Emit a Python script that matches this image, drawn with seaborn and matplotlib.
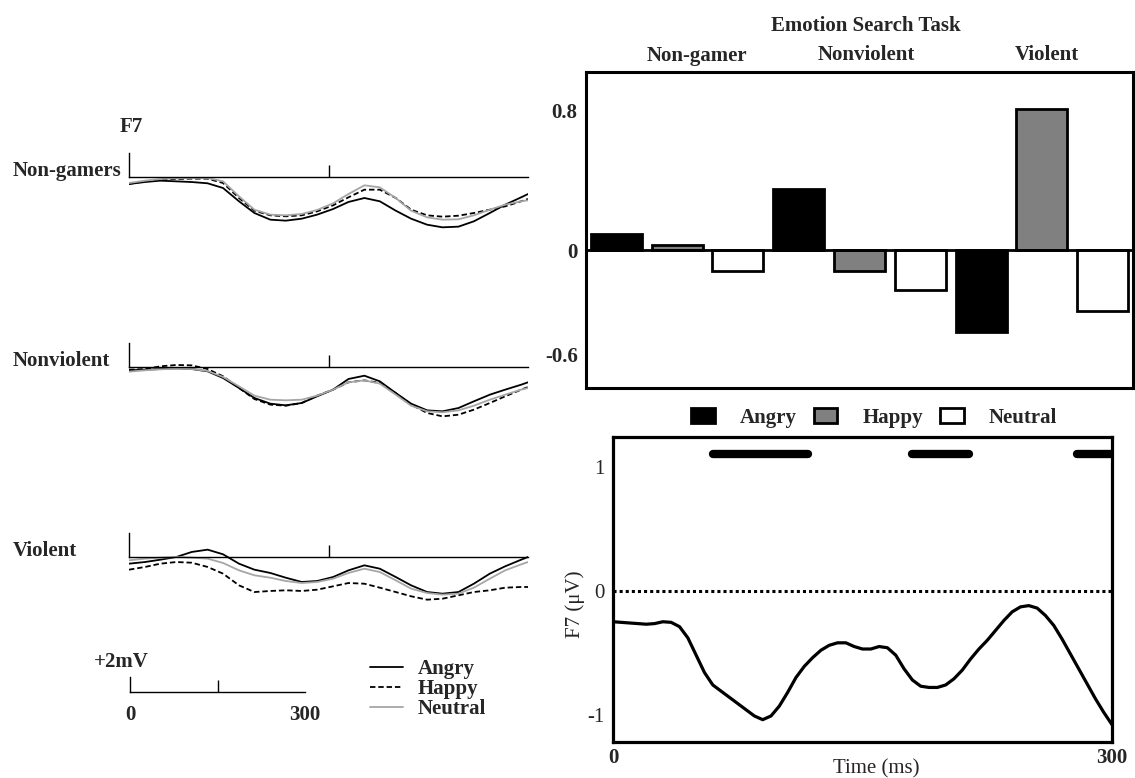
import numpy as np
import pandas as pd
import matplotlib
matplotlib.use("Agg")
import matplotlib.pyplot as plt
import matplotlib.transforms as mtransforms
from matplotlib.patches import Patch
from matplotlib.lines import Line2D
import seaborn as sns

sns.set_theme(style="white")
plt.rcParams['font.family'] = ['Liberation Serif', 'DejaVu Serif']

# ---------------- data ----------------
emotions = ["Angry", "Happy", "Neutral"]

# Left: grand-average ERP waveforms at F7 (time in ms, amplitude in uV)
erp_time = [0, 28, 55, 83, 110, 138, 165, 193, 220, 248, 275, 303, 330, 358,
            385, 413, 440, 468, 495, 523, 550, 578, 605, 633, 660, 688, 700]
ng_angry = [-0.93, -0.67, -0.49, -0.58, -0.67, -0.84, -1.47, -3.24, -4.80, -5.69, -5.82, -5.56, -5.02, -4.27,
            -3.33, -2.80, -3.24, -4.49, -5.56, -6.36, -6.71, -6.62, -5.91, -4.80, -3.69, -2.71, -2.27]
ng_happy = [-0.93, -0.58, -0.36, -0.27, -0.22, -0.22, -0.80, -2.80, -4.49, -5.11, -5.24, -5.11, -4.58, -3.78,
            -2.71, -1.69, -1.69, -2.80, -4.36, -5.11, -5.29, -5.16, -4.80, -4.36, -3.91, -3.24, -2.93]
ng_neutral = [-0.80, -0.49, -0.27, -0.18, -0.13, -0.13, -0.58, -2.58, -4.36, -5.02, -5.11, -4.93, -4.40, -3.51,
              -2.27, -1.11, -1.38, -2.80, -4.49, -5.38, -5.69, -5.64, -5.11, -4.36, -3.69, -3.24, -3.11]
nv_angry = [-0.44, -0.36, -0.27, -0.18, -0.27, -0.58, -1.47, -2.80, -4.13, -4.89, -5.11, -4.80, -3.91, -3.02,
            -1.60, -1.16, -1.91, -3.47, -4.89, -5.78, -5.91, -5.47, -4.58, -3.69, -3.02, -2.36, -2.04]
nv_happy = [-0.36, -0.27, 0.09, 0.27, 0.22, -0.27, -1.24, -2.80, -4.27, -5.02, -5.16, -4.80, -3.82, -3.02,
            -2.04, -1.78, -2.13, -3.47, -5.02, -6.13, -6.58, -6.36, -5.69, -4.80, -3.91, -3.02, -2.67]
nv_neutral = [-0.62, -0.44, -0.31, -0.22, -0.27, -0.53, -1.33, -2.58, -3.82, -4.36, -4.44, -4.36, -3.82, -3.02,
              -2.04, -1.78, -2.22, -3.69, -5.16, -5.91, -6.04, -5.78, -5.16, -4.36, -3.69, -3.02, -2.80]
v_angry = [-0.89, -0.67, -0.36, 0.00, 0.67, 0.98, 0.36, -0.89, -1.69, -2.13, -2.76, -3.33, -3.20, -2.67,
           -1.78, -1.11, -1.56, -2.67, -3.78, -4.67, -4.89, -4.67, -3.56, -2.22, -1.24, -0.36, 0.00]
v_happy = [-1.69, -1.33, -0.89, -0.67, -0.76, -1.33, -2.22, -3.78, -4.67, -4.53, -4.44, -4.53, -4.36, -3.91,
           -3.47, -3.56, -4.09, -4.67, -5.24, -5.69, -5.56, -5.11, -4.67, -4.44, -4.09, -4.00, -4.00]
v_neutral = [-0.44, -0.22, -0.09, 0.00, -0.09, -0.22, -0.80, -1.78, -2.44, -2.76, -3.20, -3.47, -3.33, -2.89,
             -2.13, -1.56, -2.00, -3.11, -4.22, -4.80, -5.02, -4.89, -4.09, -2.89, -1.78, -0.98, -0.67]
panel_names = ["Non-gamers", "Nonviolent", "Violent"]
panel_series = [(ng_angry, ng_happy, ng_neutral),
                (nv_angry, nv_happy, nv_neutral),
                (v_angry, v_happy, v_neutral)]

# Top right: mean amplitude bars
bar_groups = ["Non-gamer", "Nonviolent", "Violent"]
bar_angry = [0.09, 0.35, -0.47]
bar_happy = [0.03, -0.12, 0.81]
bar_neutral = [-0.12, -0.23, -0.35]
bar_ticks = [0.8, 0, -0.6]
bar_ticklabels = ["0.8", "0", "-0.6"]

# Bottom right: difference wave at F7
line_time = [0, 5, 10, 15, 20, 25, 30, 35, 40, 45, 50, 55, 60, 65, 70, 75, 80, 85, 90, 95,
             100, 105, 110, 115, 120, 125, 130, 135, 140, 145, 150, 155, 160, 165, 170, 175,
             180, 185, 190, 195, 200, 205, 210, 215, 220, 225, 230, 235, 240, 245, 250, 255,
             260, 265, 270, 275, 280, 285, 290, 295, 300]
line_f7 = [-0.25, -0.255, -0.26, -0.265, -0.27, -0.265, -0.25, -0.255, -0.29, -0.38, -0.52, -0.66,
           -0.76, -0.81, -0.86, -0.91, -0.96, -1.01, -1.04, -1.01, -0.93, -0.82, -0.70, -0.61,
           -0.54, -0.48, -0.44, -0.42, -0.42, -0.45, -0.47, -0.47, -0.45, -0.46, -0.52, -0.63,
           -0.72, -0.77, -0.78, -0.78, -0.76, -0.71, -0.64, -0.55, -0.47, -0.40, -0.32, -0.24,
           -0.17, -0.13, -0.12, -0.14, -0.20, -0.28, -0.39, -0.51, -0.63, -0.75, -0.87, -0.98, -1.08]
sig_start = [60, 180, 279]
sig_end = [117, 214, 300]

# ---------------- figure ----------------
W, H = 1135, 778
fig = plt.figure(figsize=(W / 100, H / 100), dpi=100)


def rect(x0, y0, x1, y1):
    return [x0 / W, 1 - y1 / H, (x1 - x0) / W, (y1 - y0) / H]


line_colors = {"Angry": "black", "Happy": "black", "Neutral": "#a6a6a6"}
line_dashes = {"Angry": "", "Happy": (3, 1.6), "Neutral": ""}
BOLD = dict(fontweight="bold", fontsize=15)

baselines = [177, 367, 557]
PX_PER_UV = 7.5
for name, series, base in zip(panel_names, panel_series, baselines):
    top = base - 3.5 * PX_PER_UV
    bot = base + 7.5 * PX_PER_UV
    ax = fig.add_axes(rect(129, top, 528, bot))
    df = pd.DataFrame({
        "time": erp_time * 3,
        "uV": list(series[0]) + list(series[1]) + list(series[2]),
        "emotion": sum([[e] * len(erp_time) for e in emotions], []),
    })
    sns.lineplot(data=df, x="time", y="uV", hue="emotion", style="emotion",
                 palette=line_colors, dashes=line_dashes, linewidth=1.3,
                 legend=False, ax=ax)
    ax.set_xlim(0, 700)
    ax.set_ylim(-7.5, 3.5)
    ax.patch.set_alpha(0)
    for s in ["top", "right"]:
        ax.spines[s].set_visible(False)
    ax.spines["left"].set_bounds(0, 3.2)
    ax.spines["bottom"].set_position(("data", 0))
    for s in ["left", "bottom"]:
        ax.spines[s].set_color("black")
        ax.spines[s].set_linewidth(1.0)
    ax.set_xticks([350])
    ax.set_yticks([])
    ax.tick_params(axis="x", direction="in", length=8.4, width=1.0,
                   color="black", labelbottom=False, bottom=True)
    ax.set_xlabel("")
    ax.set_ylabel("")
    fig.text(13 / W, 1 - (base - 6) / H, name, ha="left", va="center", **BOLD)

fig.text(131 / W, 1 - 127 / H, "F7", ha="center", va="center", **BOLD)

# scale bar
axs = fig.add_axes(rect(130, 677, 305, 692))
axs.set_xlim(0, 300)
axs.set_ylim(0, 2)
axs.patch.set_alpha(0)
for s in ["top", "right"]:
    axs.spines[s].set_visible(False)
for s in ["left", "bottom"]:
    axs.spines[s].set_color("black")
    axs.spines[s].set_linewidth(1.0)
axs.set_yticks([])
axs.set_xticks([0, 300])
axs.set_xticklabels(["0", "300"], fontweight="bold", fontsize=15)
axs.set_xticks([150], minor=True)
axs.tick_params(axis="x", which="major", length=0, pad=9)
axs.tick_params(axis="x", which="minor", direction="in", length=8.6, width=1.0,
                color="black", bottom=True)
fig.text(121 / W, 1 - 662 / H, "+2mV", ha="center", va="center", **BOLD)

left_handles = [Line2D([], [], color=line_colors[e], lw=1.3,
                       linestyle=(0, line_dashes[e]) if line_dashes[e] else "-")
                for e in emotions]
fig.legend(left_handles, emotions, loc="upper left",
           bbox_to_anchor=(370 / W, 1 - 659 / H), frameon=False,
           prop=dict(weight="bold", size=15), handlelength=1.6,
           handletextpad=0.7, labelspacing=0.0, borderpad=0, borderaxespad=0)

# ---------------- bar chart ----------------
axb = fig.add_axes(rect(586, 72, 1133, 388))
bdf = pd.DataFrame({
    "group": bar_groups * 3,
    "value": bar_angry + bar_happy + bar_neutral,
    "emotion": sum([[e] * 3 for e in emotions], []),
})
bar_colors = {"Angry": "black", "Happy": "#808080", "Neutral": "white"}
sns.barplot(data=bdf, x="group", y="value", hue="emotion", hue_order=emotions,
            order=bar_groups, palette=bar_colors, saturation=1, width=1.0,
            gap=0.16, edgecolor="black", linewidth=2.0, errorbar=None,
            legend=False, ax=axb)
axb.axhline(0, color="black", lw=2.0, zorder=3)
axb.set_xlim(-0.5, 2.5)
axb.set_ylim(-0.79, 1.02)
for s in axb.spines.values():
    s.set_visible(True)
    s.set_color("black")
    s.set_linewidth(2.2)
axb.set_xticks([])
axb.set_xlabel("")
axb.set_ylabel("")
axb.set_yticks(bar_ticks)
axb.set_yticklabels(bar_ticklabels, fontweight="bold", fontsize=15)
axb.tick_params(axis="y", length=0, pad=6)
trans = mtransforms.blended_transform_factory(axb.transData, axb.transAxes)
label_nudge = [0.11, 0.04, 0.03]
for i, (g, nud) in enumerate(zip(bar_groups, label_nudge)):
    axb.text(i + nud, 1 + 16.5 / 316, g, transform=trans, ha="center",
             va="center", **BOLD)
fig.text(866 / W, 1 - 26 / H, "Emotion Search Task", ha="center",
         va="center", **BOLD)

bar_handles = [Patch(facecolor=bar_colors[e], edgecolor="black", lw=2.0)
               for e in emotions]
fig.legend(bar_handles, emotions, loc="center", ncol=3,
           bbox_to_anchor=(874 / W, 1 - 418 / H), frameon=False,
           prop=dict(weight="bold", size=15), handlelength=1.15,
           handleheight=0.7, handletextpad=1.2, columnspacing=0.8,
           borderpad=0, borderaxespad=0)

# ---------------- difference wave ----------------
axl = fig.add_axes(rect(613, 437, 1112, 742))
sns.lineplot(x=line_time, y=line_f7, color="black", linewidth=2.3, ax=axl)
axl.axhline(0, color="black", lw=2.2, linestyle=(0, (1, 1)))
for s0, s1 in zip(sig_start, sig_end):
    axl.plot([s0, s1], [1.1, 1.1], color="black", lw=6,
             solid_capstyle="round")
axl.set_xlim(0, 300)
axl.set_ylim(-1.22, 1.24)
for s in axl.spines.values():
    s.set_visible(True)
    s.set_color("black")
    s.set_linewidth(2.3)
axl.set_xticks([0, 300])
axl.set_xticklabels(["0", "300"], fontweight="bold", fontsize=15)
axl.set_yticks([1, 0, -1])
axl.set_yticklabels(["1", "0", "-1"], fontsize=15)
axl.tick_params(axis="both", length=0)
axl.tick_params(axis="x", pad=4)
axl.tick_params(axis="y", pad=6)
axl.set_xlabel("Time (ms)", fontsize=15)
axl.xaxis.set_label_coords(0.527, -0.058)
axl.set_ylabel("F7 (\u03bcV)", fontsize=15)
axl.yaxis.label.set(ha="center", va="center")
axl.yaxis.set_label_coords(-0.076, 0.45)

fig.savefig("out.png", dpi=100)
